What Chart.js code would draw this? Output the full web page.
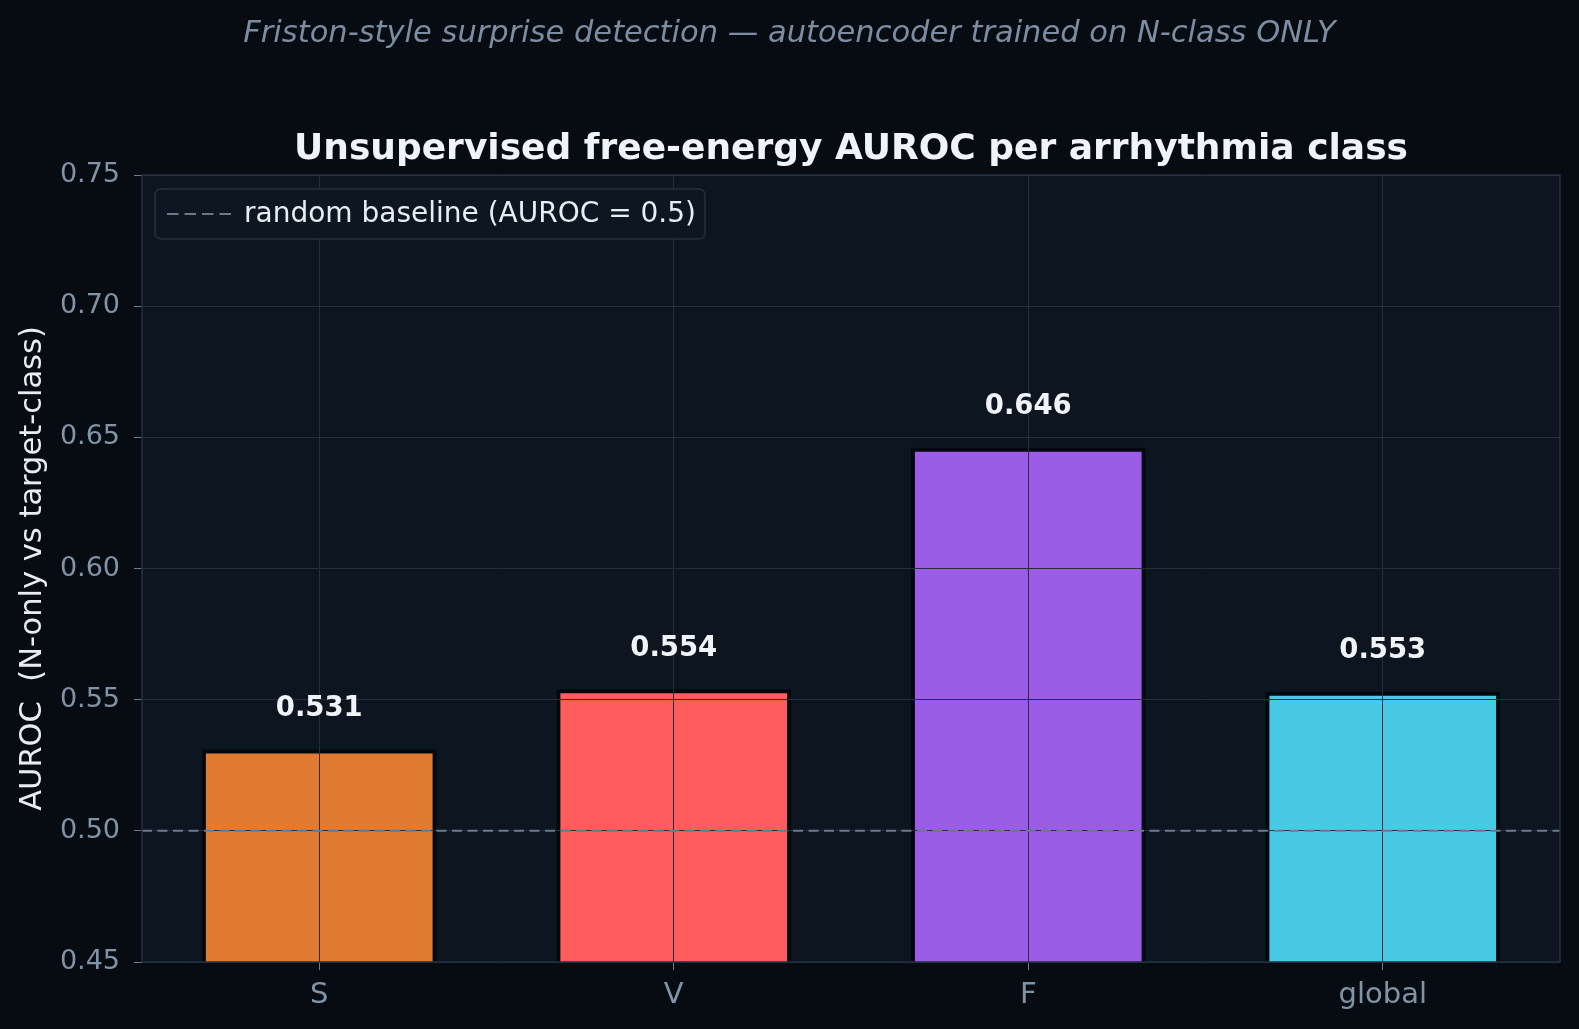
<!DOCTYPE html>
<html>
<head>
<meta charset="utf-8">
<script src="https://cdn.jsdelivr.net/npm/chart.js@4.4.1/dist/chart.umd.min.js"></script>
<style>
    html, body { margin: 0; padding: 0; background: #070b12; }
    canvas { display: block; }
</style>
</head>
<body>
<canvas id="chart" width="1579" height="1029"></canvas>
<script>
// data
const classLabels = ['S', 'V', 'F', 'global'];
const aurocValues = [0.531, 0.554, 0.646, 0.553];
const barColors = ['#e07b31', '#ff5d5d', '#9b5de5', '#48cae4'];
const yTickValues = [0.45, 0.50, 0.55, 0.60, 0.65, 0.70, 0.75];
const baselineValue = 0.5;
const baselineLabel = 'random baseline (AUROC = 0.5)';

const FONT = '"DejaVu Sans", "Noto Sans", sans-serif';
const FIG_BG = '#070b12';
const AX_BG = '#0d1520';
const GRID = '#252e3a';
const SPINE = '#223040';
const DASH_COLOR = '#6a7a8c';

const figureDecor = {
    id: 'figureDecor',
    beforeDraw(chart) {
        const { ctx, chartArea: a } = chart;
        ctx.save();
        ctx.fillStyle = FIG_BG;
        ctx.fillRect(0, 0, chart.width, chart.height);
        ctx.fillStyle = AX_BG;
        ctx.fillRect(a.left, a.top, a.right - a.left, a.bottom - a.top);
        ctx.restore();
    },
    afterDraw(chart) {
        const { ctx, chartArea: a } = chart;
        const y = chart.scales.y;
        const x = chart.scales.x;
        ctx.save();

        // dashed baseline (on top of grid)
        const by = y.getPixelForValue(baselineValue);
        ctx.strokeStyle = DASH_COLOR;
        ctx.lineWidth = 2;
        ctx.setLineDash([10, 5.5]);
        ctx.beginPath();
        ctx.moveTo(a.left, by);
        ctx.lineTo(a.right, by);
        ctx.stroke();
        ctx.setLineDash([]);

        // spines
        ctx.strokeStyle = SPINE;
        ctx.lineWidth = 1.5;
        ctx.strokeRect(a.left, a.top, a.right - a.left, a.bottom - a.top);

        // value labels
        ctx.fillStyle = '#f0f4f8';
        ctx.font = 'bold 27.5px ' + FONT;
        ctx.textAlign = 'center';
        ctx.textBaseline = 'middle';
        aurocValues.forEach((v, i) => {
            ctx.fillText(v.toFixed(3), x.getPixelForValue(i), y.getPixelForValue(v + 0.0155));
        });

        // legend
        ctx.font = '28px ' + FONT;
        const lx = a.left + 13, ly = a.top + 14, lh = 50;
        const tw = ctx.measureText(baselineLabel).width;
        const lw = 89 + tw + 9;
        ctx.fillStyle = 'rgba(14,22,33,0.9)';
        ctx.strokeStyle = '#1f2a37';
        ctx.lineWidth = 2;
        ctx.beginPath();
        ctx.roundRect(lx, ly, lw, lh, 6);
        ctx.fill();
        ctx.stroke();
        ctx.strokeStyle = DASH_COLOR;
        ctx.setLineDash([11.5, 6]);
        ctx.beginPath();
        ctx.moveTo(lx + 12, ly + lh / 2);
        ctx.lineTo(lx + 79, ly + lh / 2);
        ctx.stroke();
        ctx.setLineDash([]);
        ctx.fillStyle = '#e6edf3';
        ctx.textAlign = 'left';
        ctx.fillText(baselineLabel, lx + 89, ly + lh / 2 + 1);

        // titles
        ctx.textAlign = 'center';
        ctx.fillStyle = '#7d8da1';
        ctx.font = 'italic 30.5px ' + FONT;
        ctx.fillText('Friston-style surprise detection \u2014 autoencoder trained on N-class ONLY', chart.width / 2, 34);
        ctx.fillStyle = '#f0f4f8';
        ctx.font = 'bold 36px ' + FONT;
        ctx.fillText('Unsupervised free-energy AUROC per arrhythmia class', (a.left + a.right) / 2, 150);

        // y axis label
        ctx.fillStyle = '#e6edf3';
        ctx.font = '30.5px ' + FONT;
        ctx.translate(33, (a.top + a.bottom) / 2);
        ctx.rotate(-Math.PI / 2);
        ctx.fillText('AUROC  (N-only vs target-class)', 0, 0);
        ctx.restore();
    }
};

function main() {
    new Chart(document.getElementById('chart'), {
        type: 'bar',
        data: {
            labels: classLabels,
            datasets: [{
                data: aurocValues,
                backgroundColor: barColors,
                borderColor: '#04070b',
                borderWidth: 4,
                barPercentage: 0.662,
                categoryPercentage: 1.0,
            }]
        },
        options: {
            responsive: false,
            devicePixelRatio: 1,
            animation: false,
            layout: { padding: { top: 175, right: 19, left: 0, bottom: 0 } },
            plugins: {
                legend: { display: false },
                tooltip: { enabled: false },
                title: { display: false },
            },
            scales: {
                x: {
                    offset: true,
                    grid: { z: 1, offset: false, color: GRID, lineWidth: 1, tickColor: '#6e7c8d', tickLength: 8 },
                    border: { display: false },
                    ticks: { color: '#8093a7', font: { family: FONT, size: 29 }, padding: 8 },
                    afterFit(scale) { scale.height = 67; },
                },
                y: {
                    min: 0.45,
                    max: 0.75,
                    grid: { z: 1, color: GRID, lineWidth: 1, tickColor: '#6e7c8d', tickLength: 8 },
                    border: { display: false },
                    ticks: {
                        color: '#8093a7',
                        font: { family: FONT, size: 27 },
                        padding: 14,
                        callback: v => Number(v).toFixed(2),
                    },
                    afterBuildTicks(scale) { scale.ticks = yTickValues.map(v => ({ value: v })); },
                    afterFit(scale) { scale.width = 142; },
                }
            }
        },
        plugins: [figureDecor]
    });
}

main()
</script>
</body>
</html>
